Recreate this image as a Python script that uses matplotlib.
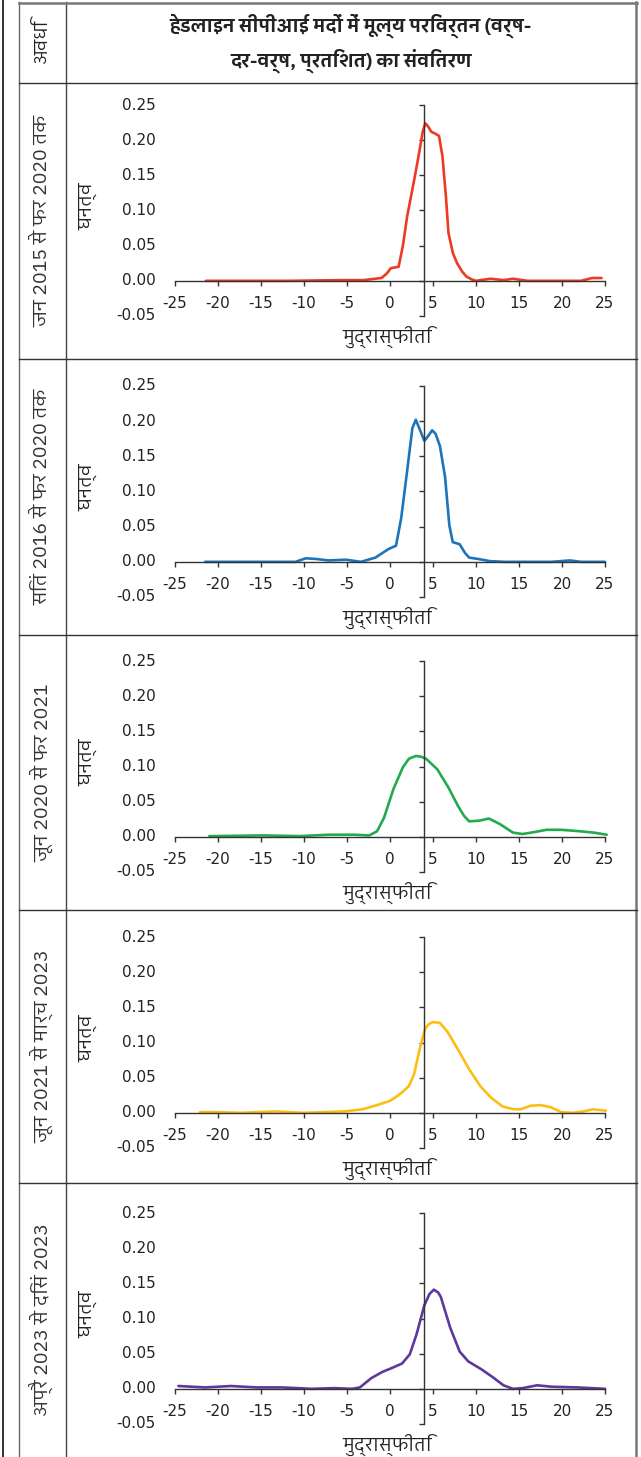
import numpy as np
import matplotlib
matplotlib.use("Agg")
from matplotlib import pyplot as plt
from matplotlib import font_manager
from matplotlib.ft2font import FT2Font
from matplotlib.lines import Line2D

# --- data (inflation %, density) ---
x_jan15 = [-21.4, -12, -5.7, -3.1, -1.0, -0.4, 0.1, 1.0, 1.5, 2.0, 2.9, 3.5, 3.8, 4.1, 4.4, 4.8, 5.3,
           5.7, 6.1, 6.5, 6.8, 7.3, 7.8, 8.4, 8.9, 9.5, 10.0, 11.7, 13.2, 14.3, 16.0, 22.2, 23.5, 24.6]
y_jan15 = [0.0, 0.0, 0.001, 0.001, 0.004, 0.01, 0.018, 0.02, 0.05, 0.092, 0.149, 0.19, 0.212, 0.224,
           0.22, 0.212, 0.209, 0.206, 0.177, 0.12, 0.068, 0.04, 0.025, 0.013, 0.006, 0.002, 0.0, 0.003,
           0.001, 0.003, 0.0, 0.0, 0.004, 0.004]

x_sep16 = [-21.5, -11.0, -9.8, -8.5, -7.2, -5.1, -3.4, -1.7, -0.2, 0.7, 1.3, 2.0, 2.6, 3.0, 3.5, 4.0,
           4.5, 4.9, 5.3, 5.8, 6.4, 6.9, 7.3, 8.1, 8.7, 9.2, 10.3, 11.6, 13.3, 18.8, 20.9, 22.2, 25.0]
y_sep16 = [0.0, 0.0, 0.005, 0.004, 0.002, 0.003, 0.0, 0.006, 0.018, 0.023, 0.062, 0.13, 0.19, 0.202,
           0.187, 0.172, 0.18, 0.187, 0.182, 0.165, 0.121, 0.052, 0.028, 0.025, 0.013, 0.006, 0.004,
           0.001, 0.0, 0.0, 0.002, 0.0, 0.0]

x_jun20 = [-21.0, -14.8, -10.5, -7.1, -4.1, -2.4, -1.5, -0.7, 0.4, 1.5, 2.2, 3.0, 3.6, 4.2, 5.5, 6.8,
           7.9, 8.6, 9.2, 10.4, 11.5, 12.8, 14.3, 15.4, 16.9, 18.2, 19.9, 22.0, 23.7, 25.2]
y_jun20 = [0.001, 0.002, 0.001, 0.003, 0.003, 0.002, 0.008, 0.027, 0.068, 0.099, 0.111, 0.115, 0.114,
           0.111, 0.096, 0.07, 0.044, 0.03, 0.022, 0.023, 0.026, 0.018, 0.006, 0.004, 0.007, 0.01,
           0.01, 0.008, 0.006, 0.003]

x_jun21 = [-22.1, -19.9, -17.3, -13.4, -10.0, -5.3, -3.2, -1.5, 0.0, 1.1, 2.2, 2.8, 3.5, 4.1, 4.5, 5.0,
           5.8, 6.7, 8.0, 9.2, 10.5, 11.8, 13.1, 14.4, 15.2, 16.3, 17.5, 18.7, 19.9, 21.2, 22.5, 23.6,
           25.1]
y_jun21 = [0.001, 0.001, 0.0, 0.002, 0.0, 0.002, 0.005, 0.011, 0.017, 0.026, 0.038, 0.055, 0.093, 0.12,
           0.126, 0.129, 0.128, 0.115, 0.088, 0.062, 0.038, 0.021, 0.009, 0.005, 0.005, 0.01, 0.011,
           0.008, 0.001, 0.0, 0.002, 0.005, 0.003]

x_apr23 = [-24.6, -21.5, -18.5, -15.5, -12.5, -9.1, -6.5, -4.4, -3.5, -2.2, -0.9, 0.1, 1.4, 2.3, 3.1,
           4.0, 4.6, 5.1, 5.6, 5.9, 7.0, 8.1, 9.1, 10.6, 11.9, 13.2, 14.3, 15.4, 17.1, 18.8, 21.8, 25.0]
y_apr23 = [0.004, 0.002, 0.004, 0.002, 0.002, 0.0, 0.001, 0.0, 0.002, 0.015, 0.024, 0.029, 0.036, 0.049,
           0.078, 0.119, 0.135, 0.141, 0.137, 0.131, 0.087, 0.053, 0.039, 0.028, 0.017, 0.005, 0.0,
           0.001, 0.005, 0.003, 0.002, 0.0]

periods = ["जन 2015 से फर 2020 तक", "सितं 2016 से फर 2020 तक", "जून 2020 से फर 2021",
           "जून 2021 से मार्च 2023", "अप्रै 2023 से दिसं 2023"]
series_x = [x_jan15, x_sep16, x_jun20, x_jun21, x_apr23]
series_y = [y_jan15, y_sep16, y_jun20, y_jun21, y_apr23]
colors = ["#EE3A24", "#1C74BA", "#22AB4C", "#FDBE14", "#5F3899"]

xticks = list(range(-25, 30, 5))
yticks = [-0.05, 0.0, 0.05, 0.10, 0.15, 0.20, 0.25]

title = "हेडलाइन सीपीआई मदों में मूल्य परिवर्तन (वर्ष-\nदर-वर्ष, प्रतिशत) का संवितरण"


# pick a proportional font that has devanagari glyphs
def score(name):
    n = name.lower()
    if "mono" in n or "code" in n:
        return 0
    s = 1
    if "devanagari" in n:
        s += 4
    if "sans" in n:
        s += 2
    if "lohit" in n or "free" in n:
        s += 1
    return s


cands = {}
for f in font_manager.fontManager.ttflist:
    try:
        if 0x0915 in FT2Font(f.fname).get_charmap():
            cands[f.name] = score(f.name)
    except Exception:
        pass
deva = max(cands, key=cands.get) if cands else None
fam = [deva, "DejaVu Sans"] if deva else ["DejaVu Sans"]
plt.rcParams["font.family"] = fam
num_fam = ["DejaVu Sans"]

W, H = 641, 1457
fig = plt.figure(figsize=(W / 100, H / 100), dpi=100)


def hline(y, x0, x1, c="#444444", lw=1.0):
    fig.add_artist(Line2D([x0 / W, x1 / W], [1 - y / H, 1 - y / H], color=c, lw=lw))


def vline(x, y0, y1, c="#444444", lw=1.0):
    fig.add_artist(Line2D([x / W, x / W], [1 - y0 / H, 1 - y1 / H], color=c, lw=lw))


# table frame
vline(2.5, 0, H, c="#222222", lw=1.3)
vline(19, 2, H, c="#666666", lw=1.0)
vline(66, 2, H, c="#444444", lw=1.0)
vline(636, 2, H, c="#777777", lw=1.8)
hline(2.5, 19, 637, c="#777777", lw=1.8)
rows = [83, 359, 635, 910, 1183, H]
for r in rows[:-1]:
    hline(r, 19, 637, c="#333333", lw=1.0)

fig.text(42 / W, 1 - 42 / H, "अवधि", rotation=90, ha="center", va="center", fontsize=13, color="#222222")
fig.text(351 / W, 1 - 43 / H, title, ha="center", va="center", fontsize=13.5, fontweight="bold",
         linespacing=1.55, color="#222222")

tops = [105, 386, 661, 937, 1213]
for i in range(5):
    rc = (rows[i] + rows[i + 1]) / 2
    fig.text(42 / W, 1 - rc / H, periods[i], rotation=90, ha="center", va="center", fontsize=14,
             color="#333333")

    ax = fig.add_axes([175 / W, 1 - (tops[i] + 211) / H, 430 / W, 211 / H])
    ax.set_xlim(-25, 25)
    ax.set_ylim(-0.05, 0.25)
    ax.patch.set_alpha(0)
    ax.spines["top"].set_visible(False)
    ax.spines["right"].set_visible(False)
    ax.spines["left"].set_position(("data", 4))
    ax.spines["bottom"].set_position(("data", 0))
    for s in ("left", "bottom"):
        ax.spines[s].set_color("#333333")
        ax.spines[s].set_linewidth(1.0)
    ax.set_xticks(xticks)
    ax.set_yticks(yticks)
    ax.tick_params(direction="out", length=3.5, width=1.0, color="#333333",
                   labelbottom=False, labelleft=False)

    for v in xticks:
        ax.text(v, -0.032, str(v), ha="center", va="center", fontsize=11, color="#222222",
                family=num_fam)
    for v in yticks:
        ax.text(-0.045, v, "%.2f" % v, ha="right", va="center", fontsize=11, color="#222222",
                family=num_fam, transform=ax.get_yaxis_transform())

    ax.plot(series_x[i], series_y[i], color=colors[i], lw=1.9, solid_joinstyle="round",
            solid_capstyle="round", clip_on=False)

    ax.set_xlabel("मुद्रास्फीति", fontsize=13.5, color="#222222", va="center")
    ax.xaxis.set_label_coords(0.493, -0.104)
    ax.set_ylabel("घनत्व", fontsize=13.5, color="#222222", va="center")
    ax.yaxis.set_label_coords(-0.202, 0.52)

fig.savefig("out.png", dpi=100)
